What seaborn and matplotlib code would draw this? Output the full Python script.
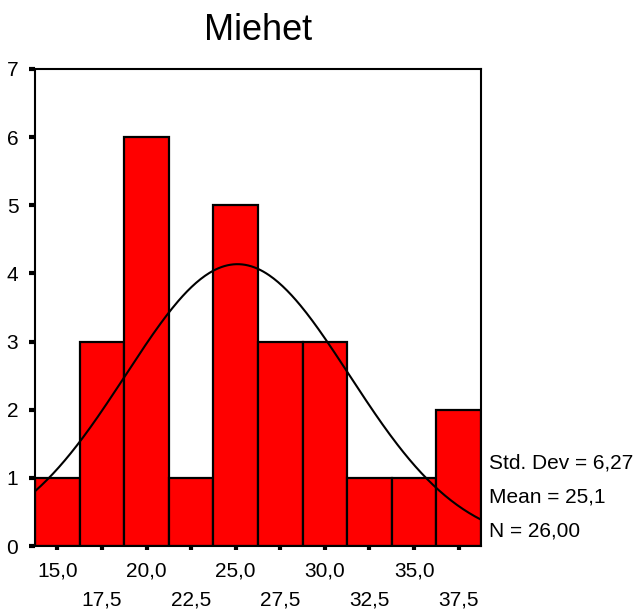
import numpy as np
import pandas as pd
import matplotlib
matplotlib.use("Agg")
import matplotlib.pyplot as plt
import seaborn as sns

# histogram bins (centres) and counts
centers = [15.0, 17.5, 20.0, 22.5, 25.0, 27.5, 30.0, 32.5, 35.0, 37.5]
counts = [1, 3, 6, 1, 5, 3, 3, 1, 1, 2]
bin_width = 2.5

# summary stats shown in the chart
std_dev = 6.27
mean = 25.1
n = 26

major_ticks = [15.0, 20.0, 25.0, 30.0, 35.0]
minor_ticks = [17.5, 22.5, 27.5, 32.5, 37.5]
y_ticks = [0, 1, 2, 3, 4, 5, 6, 7]

sns.set_style("white")
plt.rcParams["font.family"] = ["Liberation Sans", "DejaVu Sans"]
plt.rcParams["text.color"] = "black"

fig = plt.figure(figsize=(6.38, 6.15), dpi=100)
ax = fig.add_axes([35 / 638, 69 / 615, 446 / 638, 477 / 615])

df = pd.DataFrame({"x": centers, "w": counts})
edges = [c - bin_width / 2 for c in centers] + [centers[-1] + bin_width / 2]
sns.histplot(data=df, x="x", weights="w", bins=edges, color="#ff0000",
             edgecolor="black", linewidth=1.6, alpha=1, ax=ax)

# fitted normal curve scaled to counts
xs = np.linspace(edges[0], edges[-1], 300)
ys = n * bin_width / (std_dev * np.sqrt(2 * np.pi)) * np.exp(-0.5 * ((xs - mean) / std_dev) ** 2)
sns.lineplot(x=xs, y=ys, color="black", linewidth=1.5, ax=ax)

ax.set_xlim(edges[0], edges[-1])
ax.set_ylim(0, 7)
ax.set_yticks(y_ticks)
ax.set_yticklabels([str(v) for v in y_ticks], fontsize=15, color="black")
ax.set_xticks(major_ticks)
ax.set_xticklabels([f"{v:.1f}".replace(".", ",") for v in major_ticks], fontsize=15, color="black")
ax.set_xticks(minor_ticks, minor=True)
ax.set_xticklabels([f"{v:.1f}".replace(".", ",") for v in minor_ticks], minor=True,
                   fontsize=15, color="black")
ax.tick_params(axis="x", which="both", bottom=True, direction="out", length=3, width=3,
               color="black", pad=8)
ax.tick_params(axis="x", which="minor", pad=29)
ax.tick_params(axis="y", left=True, direction="out", length=4, width=3, color="black", pad=8)
ax.set_xlabel("")
ax.set_ylabel("")
for s in ax.spines.values():
    s.set_color("black")
    s.set_linewidth(1.5)

fig.text(0.5 * (35 + 481) / 638, 1 - 30 / 615, "Miehet", ha="center", va="center", fontsize=26)

stats = ["Std. Dev = " + f"{std_dev:.2f}".replace(".", ","),
         "Mean = " + f"{mean:.1f}".replace(".", ","),
         "N = " + f"{n:.2f}".replace(".", ",")]
for i, t in enumerate(stats):
    fig.text(489 / 638, 1 - (463 + 34 * i) / 615, t, ha="left", va="center", fontsize=15)

fig.savefig("out.png", dpi=100)
